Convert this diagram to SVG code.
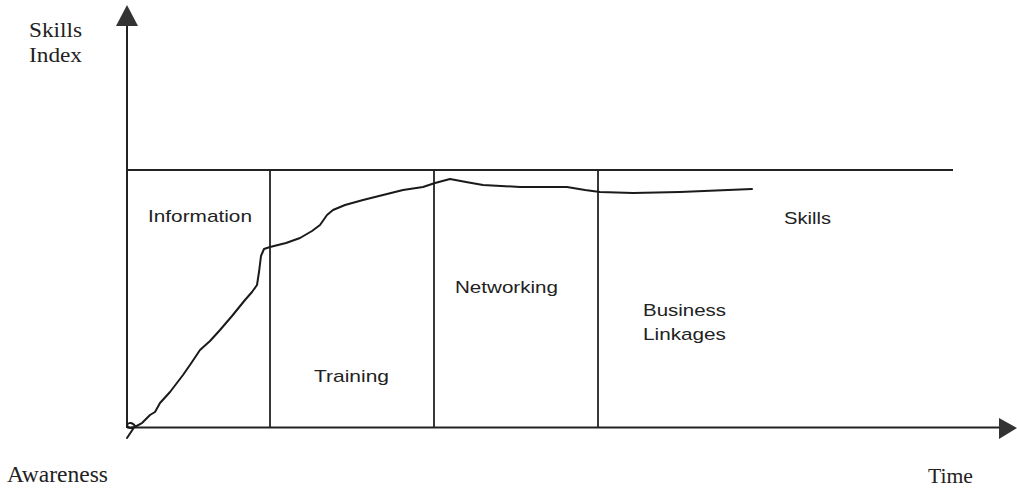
<svg xmlns="http://www.w3.org/2000/svg" width="1017" height="490" viewBox="0 0 1017 490">
<style>
.ax{stroke:#222;stroke-width:2;fill:none}
.ln{stroke:#222;stroke-width:1.8;fill:none}
.cv{stroke:#1a1a1a;stroke-width:2;fill:none;stroke-linejoin:round;stroke-linecap:round}
.serif{font-family:"Liberation Serif","Times New Roman",serif;font-size:21px;fill:#222}
.sans{font-family:"Liberation Sans",Arial,sans-serif;font-size:17px;fill:#222}
.head{fill:#333}
</style>
<rect width="1017" height="490" fill="#ffffff"/>
<g id="axes">
<line class="ax" x1="127" y1="22" x2="127" y2="428"/>
<polygon class="head" points="127,5 138,26 116,26"/>
<line class="ax" x1="127" y1="427.5" x2="1002" y2="427.5"/>
<polygon class="head" points="1017,428 999,418 999,439"/>
</g>
<g id="grid">
<line class="ln" x1="127" y1="170" x2="953" y2="170"/>
<line class="ln" x1="270" y1="170" x2="270" y2="427"/>
<line class="ln" x1="434" y1="170" x2="434" y2="427"/>
<line class="ln" x1="598" y1="170" x2="598" y2="427"/>
</g>
<g id="curve">
<path class="cv" d="M127,438 L135,426 C132,421 125,423 128,427 C131,430 137,426 142,423 L150,415 L155,412 L160,403 L170,392 L183,375 L192,362 L200,350 L210,341 L220,330 L232,316 L245,300 L252,292 L257,285 L259,272 L261,256 L264,249 L270,247 L286,243 L300,238 L312,231 L320,225 L327,215 L333,210 L345,205 L363,200 L383,195 L403,190 L423,187 L435,183 L450,179 L466,182 L483,185 L520,187 L567,187 L585,190 L600,192 L633,193 L680,192 L752,189"/>
</g>
<g id="labels">
<text class="serif" x="29" y="37" textLength="53" lengthAdjust="spacingAndGlyphs">Skills</text>
<text class="serif" x="29" y="62" textLength="53" lengthAdjust="spacingAndGlyphs">Index</text>
<text class="serif" x="7" y="482" style="font-size:24px" textLength="101" lengthAdjust="spacingAndGlyphs">Awareness</text>
<text class="serif" x="928" y="483" style="font-size:22px" textLength="45" lengthAdjust="spacingAndGlyphs">Time</text>
</g>
<g id="node-information"><text class="sans" x="148" y="222" textLength="104" lengthAdjust="spacingAndGlyphs">Information</text></g>
<g id="node-training"><text class="sans" x="314" y="382" textLength="75" lengthAdjust="spacingAndGlyphs">Training</text></g>
<g id="node-networking"><text class="sans" x="455" y="293" textLength="103" lengthAdjust="spacingAndGlyphs">Networking</text></g>
<g id="node-business"><text class="sans" x="643" y="316" textLength="83" lengthAdjust="spacingAndGlyphs">Business</text><text class="sans" x="643" y="340" textLength="83" lengthAdjust="spacingAndGlyphs">Linkages</text></g>
<g id="node-skills"><text class="sans" x="784" y="224" textLength="47" lengthAdjust="spacingAndGlyphs">Skills</text></g>
</svg>
